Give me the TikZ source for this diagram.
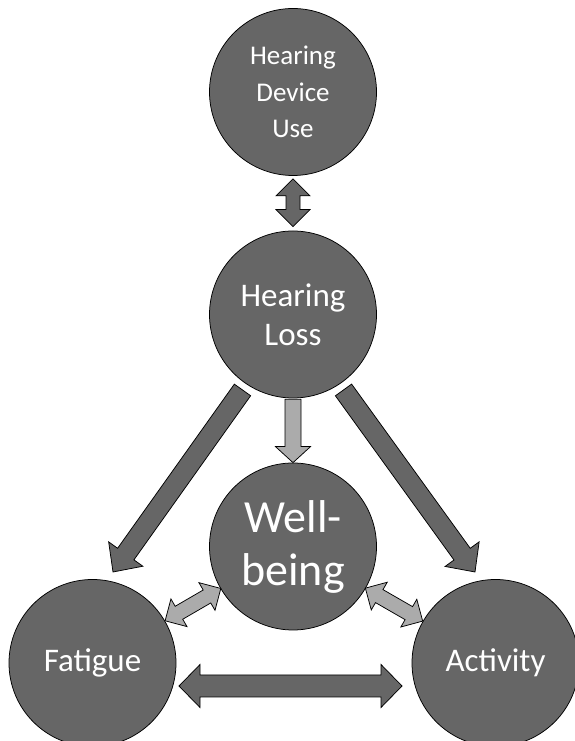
\documentclass[tikz,border=0pt]{standalone}
\usepackage{fontspec}
\setmainfont{Carlito}
\usetikzlibrary{calc}
\definecolor{dk}{gray}{0.4}
\definecolor{lt}{gray}{0.67}
\newcommand{\blkarrow}[6]{%
  \path ($(#3)!#6!(#2)$) coordinate (bkH);
  \draw[#1] ($(#2)!#4!90:(#3)$) -- ($(bkH)!#4!-90:(#2)$) -- ($(bkH)!#5!-90:(#2)$) -- (#3) -- ($(bkH)!#5!90:(#2)$) -- ($(bkH)!#4!90:(#2)$) -- ($(#2)!#4!-90:(#3)$) -- cycle;
}
\newcommand{\dblarrow}[6]{%
  \path ($(#3)!#6!(#2)$) coordinate (bkH) ($(#2)!#6!(#3)$) coordinate (bkG);
  \draw[#1] (#2) -- ($(bkG)!#5!90:(#3)$) -- ($(bkG)!#4!90:(#3)$) -- ($(bkH)!#4!-90:(#2)$) -- ($(bkH)!#5!-90:(#2)$) -- (#3) -- ($(bkH)!#5!90:(#2)$) -- ($(bkH)!#4!90:(#2)$) -- ($(bkG)!#4!-90:(#3)$) -- ($(bkG)!#5!-90:(#3)$) -- cycle;
}
\tikzset{
  bubble/.style={circle, minimum size=167pt, inner sep=0pt, fill=dk, draw=black, line width=0.75pt, text=white, align=center},
  darkarrow/.style={fill=dk, draw=black, line width=0.75pt, line join=miter},
  lightarrow/.style={fill=lt, draw=black, line width=0.75pt, line join=miter}
}
\begin{document}
\begin{tikzpicture}[x=1pt,y=1pt]
\clip (0,0) rectangle (575,741);
\fill[white] (0,0) rectangle (575,741);
\node[bubble, font=\fontsize{27}{36.7}\selectfont] (hdu) at (293,649) {Hearing\\Device\\Use};
\node[bubble, font=\fontsize{33}{39}\selectfont] (hl) at (293,426.5) {Hearing\\Loss};
\node[bubble, font=\fontsize{46}{53}\selectfont] (wb) at (293,194.5) {Well-\\being};
\node[bubble, font=\fontsize{33}{39}\selectfont] (fa) at (92.5,78) {Fatigue};
\node[bubble, font=\fontsize{33}{39}\selectfont] (ac) at (495.5,78) {Activity};
% endpoints
\coordinate (u1) at ($(hdu.south)+(0,-3)$);
\coordinate (u2) at ($(hl.north)+(0,4)$);
\coordinate (m1) at ($(hl.south)+(0,-1)$);
\coordinate (m2) at (wb.north);
\coordinate (l1) at ($(hl)+(236.2:90.8pt)$);
\coordinate (l2) at ($(fa)+(77.3:93.3pt)$);
\coordinate (r1) at ($(hl)+(303.8:90.8pt)$);
\coordinate (r2) at ($(ac)+(102.7:93.3pt)$);
\coordinate (h1) at ($(fa)+(86.5,-23)$);
\coordinate (h2) at ($(ac)+(-93.5,-23)$);
\coordinate (a1) at ($(wb)!83.5pt!(fa)$);
\coordinate (a2) at ($(fa)!84pt!(wb)$);
\coordinate (b1) at ($(wb)!83.5pt!(ac)$);
\coordinate (b2) at ($(ac)!84pt!(wb)$);
% arrows
\dblarrow{darkarrow}{u1}{u2}{7pt}{17pt}{17pt}
\blkarrow{lightarrow}{m1}{m2}{8pt}{17.5pt}{16pt}
\blkarrow{darkarrow}{l1}{l2}{10pt}{21pt}{22pt}
\blkarrow{darkarrow}{r1}{r2}{10pt}{21pt}{22pt}
\dblarrow{darkarrow}{h1}{h2}{11pt}{21.5pt}{21pt}
\dblarrow{lightarrow}{a1}{a2}{7.5pt}{16pt}{16pt}
\dblarrow{lightarrow}{b1}{b2}{7.5pt}{16pt}{16pt}
\end{tikzpicture}
\end{document}
